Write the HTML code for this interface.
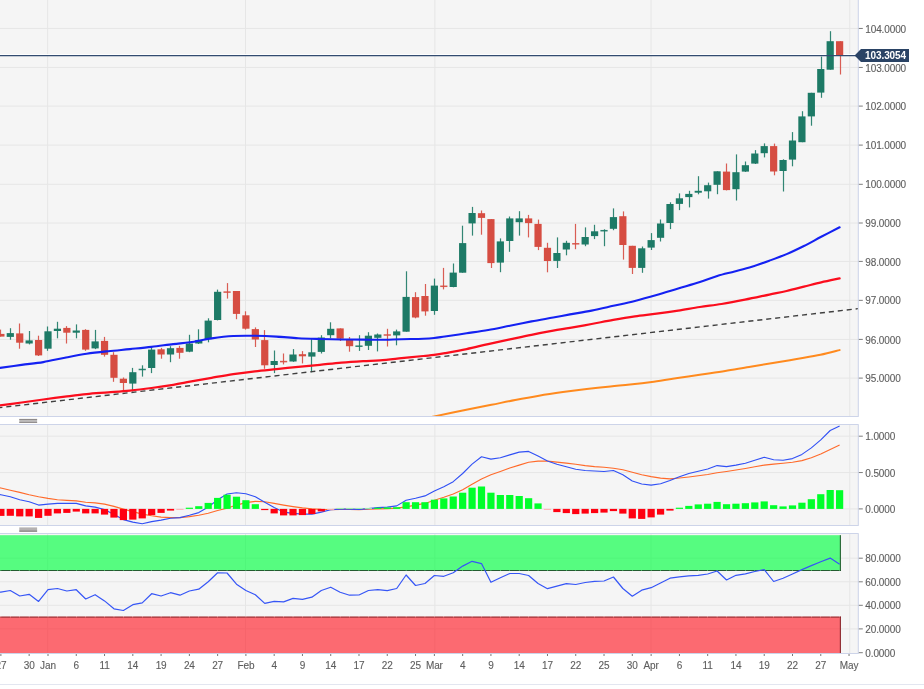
<!DOCTYPE html>
<html lang="en"><head><meta charset="utf-8"><title>DXY daily chart</title>
<style>html,body{margin:0;padding:0;background:#fff;}body{width:924px;height:689px;overflow:hidden;font-family:"Liberation Sans",sans-serif;}svg{display:block;}</style></head>
<body>
<svg width="924" height="689" viewBox="0 0 924 689" style="will-change:transform">
<rect width="924" height="689" fill="#ffffff"/>
<rect x="0" y="0" width="858.3" height="416.4" fill="#f5f5f5"/>
<rect x="0" y="424.4" width="858.3" height="101" fill="#f5f5f5"/>
<rect x="0" y="533.5" width="858.3" height="120" fill="#f5f5f5"/>
<g stroke="#e6e6e6" stroke-width="1">
<line x1="47.7" y1="0" x2="47.7" y2="416.4"/>
<line x1="47.7" y1="424.4" x2="47.7" y2="525.4"/>
<line x1="47.7" y1="533.5" x2="47.7" y2="653.5"/>
<line x1="245.5" y1="0" x2="245.5" y2="416.4"/>
<line x1="245.5" y1="424.4" x2="245.5" y2="525.4"/>
<line x1="245.5" y1="533.5" x2="245.5" y2="653.5"/>
<line x1="434.85" y1="0" x2="434.85" y2="416.4"/>
<line x1="434.85" y1="424.4" x2="434.85" y2="525.4"/>
<line x1="434.85" y1="533.5" x2="434.85" y2="653.5"/>
<line x1="651.07" y1="0" x2="651.07" y2="416.4"/>
<line x1="651.07" y1="424.4" x2="651.07" y2="525.4"/>
<line x1="651.07" y1="533.5" x2="651.07" y2="653.5"/>
<line x1="849.8" y1="0" x2="849.8" y2="416.4"/>
<line x1="849.8" y1="424.4" x2="849.8" y2="525.4"/>
<line x1="849.8" y1="533.5" x2="849.8" y2="653.5"/>
<line x1="0" y1="378.1" x2="858.3" y2="378.1"/>
<line x1="0" y1="339.4" x2="858.3" y2="339.4"/>
<line x1="0" y1="300.35" x2="858.3" y2="300.35"/>
<line x1="0" y1="261.4" x2="858.3" y2="261.4"/>
<line x1="0" y1="223" x2="858.3" y2="223"/>
<line x1="0" y1="184.3" x2="858.3" y2="184.3"/>
<line x1="0" y1="145.1" x2="858.3" y2="145.1"/>
<line x1="0" y1="106.1" x2="858.3" y2="106.1"/>
<line x1="0" y1="67.45" x2="858.3" y2="67.45"/>
<line x1="0" y1="28.45" x2="858.3" y2="28.45"/>
<line x1="0" y1="436.2" x2="858.3" y2="436.2"/>
<line x1="0" y1="472.55" x2="858.3" y2="472.55"/>
<line x1="0" y1="508.9" x2="858.3" y2="508.9"/>
<line x1="0" y1="558.2" x2="858.3" y2="558.2"/>
<line x1="0" y1="581.8" x2="858.3" y2="581.8"/>
<line x1="0" y1="605.3" x2="858.3" y2="605.3"/>
<line x1="0" y1="628.9" x2="858.3" y2="628.9"/>
</g>
<rect x="0" y="535.2" width="840.8" height="35.7" fill="#00ff40" fill-opacity="0.65"/>
<rect x="0" y="616.7" width="840.8" height="36.6" fill="#ff1e2a" fill-opacity="0.65"/>
<line x1="0" y1="570.5" x2="840.8" y2="570.5" stroke="#1c4a26" stroke-width="0.9" stroke-dasharray="8.924 0.5" stroke-dashoffset="8.29"/>
<line x1="0" y1="617.1" x2="840.8" y2="617.1" stroke="#7a1e22" stroke-width="0.9" stroke-dasharray="8.924 0.5" stroke-dashoffset="8.29"/>
<line x1="840.35" y1="535.2" x2="840.35" y2="571" stroke="#1c4a26" stroke-width="0.95"/>
<line x1="840.35" y1="616.6" x2="840.35" y2="653.3" stroke="#7a1e22" stroke-width="0.95"/>
<g stroke="#cdd4e9" stroke-width="1.05" fill="none" stroke-linejoin="round">
<path d="M858.3 0V416.4H0"/>
<path d="M0 424.4H858.3V525.4H0"/>
<path d="M0 533.5H858.3V653.5H0"/>
</g>
<line x1="0" y1="684.5" x2="924" y2="684.5" stroke="#e3e6f0" stroke-width="1" shape-rendering="crispEdges"/>
<rect x="19.3" y="418.8" width="17.8" height="4.2" fill="#c3c1c1"/>
<rect x="19.3" y="419.0" width="17.8" height="1.1" fill="#8e8a8a"/>
<rect x="19.3" y="421.8" width="17.8" height="1.1" fill="#8e8a8a"/>
<rect x="19.3" y="527.4" width="17.8" height="4.3" fill="#b4b1b1"/>
<rect x="19.3" y="530.6" width="17.8" height="1.1" fill="#857f7f"/>
<clipPath id="cm"><rect x="0" y="0" width="857.8" height="415.9"/></clipPath>
<g clip-path="url(#cm)">
<line x1="0" y1="54.45" x2="858.3" y2="54.45" stroke="#ffffff" stroke-width="1"/>
<rect x="-0.1" y="329.6" width="1.2" height="7" fill="#d64d42" fill-opacity="0.9"/>
<rect x="-2.72" y="333.9" width="7.2" height="2.7" fill="#d64d42"/>
<rect x="9.9" y="328.2" width="1.2" height="11.5" fill="#1d7a66" fill-opacity="0.9"/>
<rect x="6.7" y="333.1" width="7.2" height="3.8" fill="#1d7a66"/>
<rect x="18.9" y="323.5" width="1.2" height="25.2" fill="#d64d42" fill-opacity="0.9"/>
<rect x="16.13" y="333.4" width="7.2" height="9.3" fill="#d64d42"/>
<rect x="28.9" y="331" width="1.2" height="13.4" fill="#1d7a66" fill-opacity="0.9"/>
<rect x="25.55" y="340.4" width="7.2" height="3.1" fill="#1d7a66"/>
<rect x="37.9" y="335.7" width="1.2" height="20.3" fill="#d64d42" fill-opacity="0.9"/>
<rect x="34.98" y="340" width="7.2" height="15.4" fill="#d64d42"/>
<rect x="46.9" y="326.5" width="1.2" height="24.3" fill="#1d7a66" fill-opacity="0.9"/>
<rect x="44.4" y="331.3" width="7.2" height="17.4" fill="#1d7a66"/>
<rect x="56.9" y="321.8" width="1.2" height="16.5" fill="#1d7a66" fill-opacity="0.9"/>
<rect x="53.82" y="328.7" width="7.2" height="2.3" fill="#1d7a66"/>
<rect x="65.9" y="326.1" width="1.2" height="17.4" fill="#d64d42" fill-opacity="0.9"/>
<rect x="63.25" y="327.9" width="7.2" height="4.8" fill="#d64d42"/>
<rect x="75.9" y="324.4" width="1.2" height="13.9" fill="#1d7a66" fill-opacity="0.9"/>
<rect x="72.67" y="330.5" width="7.2" height="2.2" fill="#1d7a66"/>
<rect x="84.9" y="329.2" width="1.2" height="21.6" fill="#d64d42" fill-opacity="0.9"/>
<rect x="82.1" y="329.9" width="7.2" height="19.7" fill="#d64d42"/>
<rect x="94.9" y="329.9" width="1.2" height="19.2" fill="#1d7a66" fill-opacity="0.9"/>
<rect x="91.52" y="341.4" width="7.2" height="7" fill="#1d7a66"/>
<rect x="103.9" y="336.9" width="1.2" height="19.7" fill="#d64d42" fill-opacity="0.9"/>
<rect x="100.94" y="340.9" width="7.2" height="13.9" fill="#d64d42"/>
<rect x="112.9" y="352.2" width="1.2" height="29.6" fill="#d64d42" fill-opacity="0.9"/>
<rect x="110.37" y="354.8" width="7.2" height="23" fill="#d64d42"/>
<rect x="122.9" y="377.5" width="1.2" height="13" fill="#d64d42" fill-opacity="0.9"/>
<rect x="119.79" y="378.7" width="7.2" height="4.3" fill="#d64d42"/>
<rect x="131.9" y="367.9" width="1.2" height="23.5" fill="#1d7a66" fill-opacity="0.9"/>
<rect x="129.22" y="372.2" width="7.2" height="11.4" fill="#1d7a66"/>
<rect x="141.9" y="365.3" width="1.2" height="11.3" fill="#1d7a66" fill-opacity="0.9"/>
<rect x="138.64" y="368.75" width="7.2" height="1.5" fill="#1d7a66" fill-opacity="0.93"/>
<rect x="150.9" y="347.9" width="1.2" height="25.2" fill="#1d7a66" fill-opacity="0.9"/>
<rect x="148.06" y="349.6" width="7.2" height="18.4" fill="#1d7a66"/>
<rect x="160.9" y="347.9" width="1.2" height="10.8" fill="#d64d42" fill-opacity="0.9"/>
<rect x="157.49" y="349.3" width="7.2" height="5.2" fill="#d64d42"/>
<rect x="169.9" y="346.2" width="1.2" height="16" fill="#1d7a66" fill-opacity="0.9"/>
<rect x="166.91" y="348.2" width="7.2" height="6.3" fill="#1d7a66"/>
<rect x="178.9" y="345.8" width="1.2" height="12.9" fill="#d64d42" fill-opacity="0.9"/>
<rect x="176.34" y="347.9" width="7.2" height="4.9" fill="#d64d42"/>
<rect x="188.9" y="334.8" width="1.2" height="17.4" fill="#1d7a66" fill-opacity="0.9"/>
<rect x="185.76" y="343.5" width="7.2" height="8.2" fill="#1d7a66"/>
<rect x="197.9" y="329.3" width="1.2" height="14.7" fill="#1d7a66" fill-opacity="0.9"/>
<rect x="195.18" y="340.1" width="7.2" height="3.4" fill="#1d7a66"/>
<rect x="207.9" y="318.3" width="1.2" height="24" fill="#1d7a66" fill-opacity="0.9"/>
<rect x="204.61" y="320.6" width="7.2" height="18.6" fill="#1d7a66"/>
<rect x="216.9" y="289.6" width="1.2" height="30.8" fill="#1d7a66" fill-opacity="0.9"/>
<rect x="214.03" y="291.8" width="7.2" height="28.2" fill="#1d7a66"/>
<rect x="226.9" y="283.1" width="1.2" height="15.5" fill="#d64d42" fill-opacity="0.9"/>
<rect x="223.46" y="291.35" width="7.2" height="1.5" fill="#d64d42" fill-opacity="0.93"/>
<rect x="235.9" y="291" width="1.2" height="28.2" fill="#d64d42" fill-opacity="0.9"/>
<rect x="232.88" y="291" width="7.2" height="22.9" fill="#d64d42"/>
<rect x="244.9" y="311.3" width="1.2" height="18.3" fill="#d64d42" fill-opacity="0.9"/>
<rect x="242.3" y="315.3" width="7.2" height="13.4" fill="#d64d42"/>
<rect x="254.9" y="327.4" width="1.2" height="19.6" fill="#d64d42" fill-opacity="0.9"/>
<rect x="251.73" y="329.1" width="7.2" height="10.4" fill="#d64d42"/>
<rect x="263.9" y="330.1" width="1.2" height="38.7" fill="#d64d42" fill-opacity="0.9"/>
<rect x="261.15" y="340.1" width="7.2" height="25.2" fill="#d64d42"/>
<rect x="273.9" y="350.5" width="1.2" height="22.6" fill="#1d7a66" fill-opacity="0.9"/>
<rect x="270.58" y="361" width="7.2" height="4" fill="#1d7a66"/>
<rect x="282.9" y="353.5" width="1.2" height="10.9" fill="#d64d42" fill-opacity="0.9"/>
<rect x="280" y="360.85" width="7.2" height="1.5" fill="#d64d42" fill-opacity="0.93"/>
<rect x="292.9" y="349.1" width="1.2" height="12.7" fill="#1d7a66" fill-opacity="0.9"/>
<rect x="289.42" y="354.5" width="7.2" height="7" fill="#1d7a66"/>
<rect x="301.9" y="351.1" width="1.2" height="12.3" fill="#d64d42" fill-opacity="0.9"/>
<rect x="298.85" y="354.2" width="7.2" height="2.1" fill="#d64d42"/>
<rect x="310.9" y="339.2" width="1.2" height="33.1" fill="#1d7a66" fill-opacity="0.9"/>
<rect x="308.27" y="352.3" width="7.2" height="4.3" fill="#1d7a66"/>
<rect x="320.9" y="335.2" width="1.2" height="18.3" fill="#1d7a66" fill-opacity="0.9"/>
<rect x="317.7" y="337.5" width="7.2" height="14.4" fill="#1d7a66"/>
<rect x="329.9" y="322.3" width="1.2" height="16" fill="#1d7a66" fill-opacity="0.9"/>
<rect x="327.12" y="328.8" width="7.2" height="6.4" fill="#1d7a66"/>
<rect x="339.9" y="328.4" width="1.2" height="12.6" fill="#d64d42" fill-opacity="0.9"/>
<rect x="336.54" y="328.4" width="7.2" height="10.3" fill="#d64d42"/>
<rect x="348.9" y="337" width="1.2" height="14.7" fill="#d64d42" fill-opacity="0.9"/>
<rect x="345.97" y="339.7" width="7.2" height="6.5" fill="#d64d42"/>
<rect x="358.9" y="335.2" width="1.2" height="15.7" fill="#1d7a66" fill-opacity="0.9"/>
<rect x="355.39" y="345.45" width="7.2" height="1.5" fill="#1d7a66" fill-opacity="0.93"/>
<rect x="367.9" y="332.2" width="1.2" height="17.8" fill="#1d7a66" fill-opacity="0.9"/>
<rect x="364.82" y="335.7" width="7.2" height="10.1" fill="#1d7a66"/>
<rect x="376.9" y="333.5" width="1.2" height="17.9" fill="#1d7a66" fill-opacity="0.9"/>
<rect x="374.24" y="334.5" width="7.2" height="3.3" fill="#1d7a66"/>
<rect x="386.9" y="328.8" width="1.2" height="17.7" fill="#d64d42" fill-opacity="0.9"/>
<rect x="383.66" y="334.25" width="7.2" height="1.5" fill="#d64d42" fill-opacity="0.93"/>
<rect x="395.9" y="329.6" width="1.2" height="15.7" fill="#1d7a66" fill-opacity="0.9"/>
<rect x="393.09" y="331.4" width="7.2" height="4" fill="#1d7a66"/>
<rect x="405.9" y="271.3" width="1.2" height="60.4" fill="#1d7a66" fill-opacity="0.9"/>
<rect x="402.51" y="296.9" width="7.2" height="34.8" fill="#1d7a66"/>
<rect x="414.9" y="292.2" width="1.2" height="26.1" fill="#d64d42" fill-opacity="0.9"/>
<rect x="411.94" y="297.1" width="7.2" height="20.4" fill="#d64d42"/>
<rect x="424.9" y="284" width="1.2" height="31.7" fill="#d64d42" fill-opacity="0.9"/>
<rect x="421.36" y="296" width="7.2" height="15.4" fill="#d64d42"/>
<rect x="433.9" y="278.6" width="1.2" height="36.2" fill="#1d7a66" fill-opacity="0.9"/>
<rect x="430.78" y="285.6" width="7.2" height="25.4" fill="#1d7a66"/>
<rect x="442.9" y="267.9" width="1.2" height="21.5" fill="#d64d42" fill-opacity="0.9"/>
<rect x="440.21" y="285.55" width="7.2" height="1.5" fill="#d64d42" fill-opacity="0.93"/>
<rect x="452.9" y="263.5" width="1.2" height="23.8" fill="#1d7a66" fill-opacity="0.9"/>
<rect x="449.63" y="272.6" width="7.2" height="14.4" fill="#1d7a66"/>
<rect x="461.9" y="225.7" width="1.2" height="47" fill="#1d7a66" fill-opacity="0.9"/>
<rect x="459.06" y="243.1" width="7.2" height="29.6" fill="#1d7a66"/>
<rect x="471.9" y="206.9" width="1.2" height="28.7" fill="#1d7a66" fill-opacity="0.9"/>
<rect x="468.48" y="213" width="7.2" height="10.4" fill="#1d7a66"/>
<rect x="480.9" y="210.5" width="1.2" height="24.2" fill="#d64d42" fill-opacity="0.9"/>
<rect x="477.9" y="213.2" width="7.2" height="4.7" fill="#d64d42"/>
<rect x="490.9" y="219.1" width="1.2" height="48.9" fill="#d64d42" fill-opacity="0.9"/>
<rect x="487.33" y="219.1" width="7.2" height="44" fill="#d64d42"/>
<rect x="499.9" y="238.4" width="1.2" height="33.8" fill="#1d7a66" fill-opacity="0.9"/>
<rect x="496.75" y="241.4" width="7.2" height="21.2" fill="#1d7a66"/>
<rect x="508.9" y="216.5" width="1.2" height="35.3" fill="#1d7a66" fill-opacity="0.9"/>
<rect x="506.18" y="218.4" width="7.2" height="22.6" fill="#1d7a66"/>
<rect x="518.9" y="211.2" width="1.2" height="24.4" fill="#1d7a66" fill-opacity="0.9"/>
<rect x="515.6" y="218.4" width="7.2" height="3.8" fill="#1d7a66"/>
<rect x="527.9" y="214.9" width="1.2" height="22.5" fill="#d64d42" fill-opacity="0.9"/>
<rect x="525.02" y="218.4" width="7.2" height="4.7" fill="#d64d42"/>
<rect x="537.9" y="219.6" width="1.2" height="30.5" fill="#d64d42" fill-opacity="0.9"/>
<rect x="534.45" y="223.9" width="7.2" height="23" fill="#d64d42"/>
<rect x="546.9" y="242.8" width="1.2" height="29.5" fill="#d64d42" fill-opacity="0.9"/>
<rect x="543.87" y="247.8" width="7.2" height="13.2" fill="#d64d42"/>
<rect x="556.9" y="237.4" width="1.2" height="30.6" fill="#1d7a66" fill-opacity="0.9"/>
<rect x="553.3" y="253" width="7.2" height="7.9" fill="#1d7a66"/>
<rect x="565.9" y="240.8" width="1.2" height="14.5" fill="#1d7a66" fill-opacity="0.9"/>
<rect x="562.72" y="242.8" width="7.2" height="6.7" fill="#1d7a66"/>
<rect x="574.9" y="223.9" width="1.2" height="25.3" fill="#d64d42" fill-opacity="0.9"/>
<rect x="572.14" y="243.05" width="7.2" height="1.5" fill="#d64d42" fill-opacity="0.93"/>
<rect x="584.9" y="227.4" width="1.2" height="18.8" fill="#1d7a66" fill-opacity="0.9"/>
<rect x="581.57" y="237" width="7.2" height="7.5" fill="#1d7a66"/>
<rect x="593.9" y="224.8" width="1.2" height="14.3" fill="#1d7a66" fill-opacity="0.9"/>
<rect x="590.99" y="231.3" width="7.2" height="4.8" fill="#1d7a66"/>
<rect x="603.9" y="229.3" width="1.2" height="16.9" fill="#1d7a66" fill-opacity="0.9"/>
<rect x="600.42" y="229.95" width="7.2" height="1.5" fill="#1d7a66" fill-opacity="0.93"/>
<rect x="612.9" y="208.4" width="1.2" height="21.8" fill="#1d7a66" fill-opacity="0.9"/>
<rect x="609.84" y="217.1" width="7.2" height="11.7" fill="#1d7a66"/>
<rect x="622.9" y="211.4" width="1.2" height="48.2" fill="#d64d42" fill-opacity="0.9"/>
<rect x="619.26" y="216.2" width="7.2" height="28.8" fill="#d64d42"/>
<rect x="631.9" y="245.8" width="1.2" height="28.2" fill="#d64d42" fill-opacity="0.9"/>
<rect x="628.69" y="245.8" width="7.2" height="22.1" fill="#d64d42"/>
<rect x="641.9" y="246.5" width="1.2" height="26.3" fill="#1d7a66" fill-opacity="0.9"/>
<rect x="638.11" y="248.3" width="7.2" height="19.6" fill="#1d7a66"/>
<rect x="650.9" y="233.1" width="1.2" height="16.9" fill="#1d7a66" fill-opacity="0.9"/>
<rect x="647.54" y="240.1" width="7.2" height="7.5" fill="#1d7a66"/>
<rect x="659.9" y="219.5" width="1.2" height="22" fill="#1d7a66" fill-opacity="0.9"/>
<rect x="656.96" y="223.5" width="7.2" height="14.3" fill="#1d7a66"/>
<rect x="669.9" y="202.3" width="1.2" height="26.8" fill="#1d7a66" fill-opacity="0.9"/>
<rect x="666.38" y="204" width="7.2" height="19" fill="#1d7a66"/>
<rect x="678.9" y="193.4" width="1.2" height="16.7" fill="#1d7a66" fill-opacity="0.9"/>
<rect x="675.81" y="198.3" width="7.2" height="5.6" fill="#1d7a66"/>
<rect x="688.9" y="190.8" width="1.2" height="16.6" fill="#1d7a66" fill-opacity="0.9"/>
<rect x="685.23" y="193.9" width="7.2" height="3.2" fill="#1d7a66"/>
<rect x="697.9" y="176.2" width="1.2" height="18.1" fill="#1d7a66" fill-opacity="0.9"/>
<rect x="694.66" y="190.8" width="7.2" height="1.9" fill="#1d7a66"/>
<rect x="707.9" y="182.6" width="1.2" height="16" fill="#1d7a66" fill-opacity="0.9"/>
<rect x="704.08" y="185.2" width="7.2" height="6.1" fill="#1d7a66"/>
<rect x="716.9" y="171.3" width="1.2" height="22.9" fill="#1d7a66" fill-opacity="0.9"/>
<rect x="713.5" y="171.3" width="7.2" height="13.5" fill="#1d7a66"/>
<rect x="725.9" y="163.5" width="1.2" height="26.9" fill="#d64d42" fill-opacity="0.9"/>
<rect x="722.93" y="171.6" width="7.2" height="18.5" fill="#d64d42"/>
<rect x="735.9" y="154.4" width="1.2" height="46.1" fill="#1d7a66" fill-opacity="0.9"/>
<rect x="732.35" y="172.2" width="7.2" height="17" fill="#1d7a66"/>
<rect x="744.9" y="161.5" width="1.2" height="10.4" fill="#1d7a66" fill-opacity="0.9"/>
<rect x="741.78" y="165.2" width="7.2" height="6.4" fill="#1d7a66"/>
<rect x="754.9" y="150.1" width="1.2" height="13.9" fill="#1d7a66" fill-opacity="0.9"/>
<rect x="751.2" y="153.5" width="7.2" height="10.1" fill="#1d7a66"/>
<rect x="763.9" y="143.4" width="1.2" height="14" fill="#1d7a66" fill-opacity="0.9"/>
<rect x="760.62" y="146.1" width="7.2" height="7.1" fill="#1d7a66"/>
<rect x="773.9" y="143.6" width="1.2" height="31.7" fill="#d64d42" fill-opacity="0.9"/>
<rect x="770.05" y="146.1" width="7.2" height="25.4" fill="#d64d42"/>
<rect x="782.9" y="159.3" width="1.2" height="32.2" fill="#1d7a66" fill-opacity="0.9"/>
<rect x="779.47" y="160" width="7.2" height="11" fill="#1d7a66"/>
<rect x="791.9" y="132.1" width="1.2" height="34.2" fill="#1d7a66" fill-opacity="0.9"/>
<rect x="788.9" y="140.5" width="7.2" height="19.1" fill="#1d7a66"/>
<rect x="801.9" y="111.2" width="1.2" height="31" fill="#1d7a66" fill-opacity="0.9"/>
<rect x="798.32" y="116.4" width="7.2" height="25.8" fill="#1d7a66"/>
<rect x="810.9" y="92.8" width="1.2" height="32.9" fill="#1d7a66" fill-opacity="0.9"/>
<rect x="807.74" y="92.8" width="7.2" height="23.6" fill="#1d7a66"/>
<rect x="820.9" y="56.6" width="1.2" height="41.2" fill="#1d7a66" fill-opacity="0.9"/>
<rect x="817.17" y="69" width="7.2" height="23.6" fill="#1d7a66"/>
<rect x="829.9" y="31.2" width="1.2" height="38.5" fill="#1d7a66" fill-opacity="0.9"/>
<rect x="826.59" y="41.2" width="7.2" height="28.5" fill="#1d7a66"/>
<rect x="839.9" y="41.2" width="1.2" height="33.3" fill="#d64d42" fill-opacity="0.9"/>
<rect x="836.02" y="41.2" width="7.2" height="14.1" fill="#d64d42"/>
<line x1="860.7" y1="308.35" x2="-6" y2="408.3" stroke="#404040" stroke-width="1.4" stroke-dasharray="5.1 3.9"/>
<path d="M428 417.9C429.05 417.65 427.7 417.8 434.3 416.4C440.9 415 458.08 411.43 467.6 409.5C477.12 407.57 483.47 406.38 491.4 404.8C499.33 403.22 507.27 401.52 515.2 400C523.13 398.48 531.05 397.02 539 395.7C546.95 394.38 554.95 393.22 562.9 392.1C570.85 390.98 578.77 389.95 586.7 389C594.63 388.05 603.28 387.13 610.5 386.4C617.72 385.67 622.78 385.38 630 384.6C637.22 383.82 645.87 382.78 653.8 381.7C661.73 380.62 669.67 379.3 677.6 378.1C685.53 376.9 693.47 375.68 701.4 374.5C709.33 373.32 717.27 372.27 725.2 371C733.13 369.73 741.05 368.22 749 366.9C756.95 365.58 764.95 364.42 772.9 363.1C780.85 361.78 788.77 360.38 796.7 359C804.63 357.62 813.35 356.28 820.5 354.8C827.65 353.32 836.42 350.88 839.6 350.1" fill="none" stroke="#ff8a1e" stroke-width="2" stroke-linejoin="round" stroke-linecap="round"/>
<path d="M-3 405.7C-2.5 405.63 -4.1 405.83 0 405.3C4.1 404.77 14.38 403.47 21.6 402.5C28.82 401.53 36.08 400.47 43.3 399.5C50.52 398.53 57.68 397.6 64.9 396.7C72.12 395.8 79.38 394.82 86.6 394.1C93.82 393.38 100.98 392.98 108.2 392.4C115.42 391.82 122.68 391.33 129.9 390.6C137.12 389.87 144.28 388.97 151.5 388C158.72 387.03 166.78 385.85 173.2 384.8C179.62 383.75 183.6 382.87 190 381.7C196.4 380.53 204.38 379.07 211.6 377.8C218.82 376.53 226.08 375.18 233.3 374.1C240.52 373.02 247.68 372.13 254.9 371.3C262.12 370.47 269.38 369.83 276.6 369.1C283.82 368.37 290.98 367.62 298.2 366.9C305.42 366.18 312.68 365.52 319.9 364.8C327.12 364.08 334.28 363.22 341.5 362.6C348.72 361.98 356.78 361.48 363.2 361.1C369.62 360.72 373.6 360.78 380 360.3C386.4 359.82 394.38 358.92 401.6 358.2C408.82 357.48 417.88 356.55 423.3 356C428.72 355.45 430.5 355.37 434.1 354.9C437.7 354.43 439.48 354.17 444.9 353.2C450.32 352.23 459.38 350.62 466.6 349.1C473.82 347.58 480.98 345.72 488.2 344.1C495.42 342.48 502.68 340.95 509.9 339.4C517.12 337.85 524.28 336.25 531.5 334.8C538.72 333.35 546.78 331.85 553.2 330.7C559.62 329.55 563.6 329.02 570 327.9C576.4 326.78 584.38 325.33 591.6 324C598.82 322.67 606.08 321.17 613.3 319.9C620.52 318.63 627.68 317.43 634.9 316.4C642.12 315.37 649.38 314.67 656.6 313.7C663.82 312.73 670.98 311.72 678.2 310.6C685.42 309.48 692.68 308.1 699.9 307C707.12 305.9 713.98 305.22 721.5 304C729.02 302.78 737.03 301.27 745 299.7C752.97 298.13 762.37 296.05 769.3 294.6C776.23 293.15 780.83 292.32 786.6 291C792.37 289.68 798.13 288.15 803.9 286.7C809.67 285.25 815.25 283.7 821.2 282.3C827.15 280.9 836.53 278.97 839.6 278.3" fill="none" stroke="#fb0d1d" stroke-width="2.25" stroke-linejoin="round" stroke-linecap="round"/>
<path d="M-3 368.3C-2.5 368.23 -4.1 368.47 0 367.9C4.1 367.33 14.38 365.87 21.6 364.9C28.82 363.93 36.08 363.3 43.3 362.1C50.52 360.9 57.68 359.08 64.9 357.7C72.12 356.32 79.38 354.88 86.6 353.8C93.82 352.72 100.98 351.98 108.2 351.2C115.42 350.42 122.68 349.82 129.9 349.1C137.12 348.38 144.28 347.73 151.5 346.9C158.72 346.07 166.78 344.87 173.2 344.1C179.62 343.33 183.6 343.25 190 342.3C196.4 341.35 204.38 339.45 211.6 338.4C218.82 337.35 226.08 336.43 233.3 336C240.52 335.57 247.68 335.7 254.9 335.8C262.12 335.9 269.38 336.2 276.6 336.6C283.82 337 290.98 337.8 298.2 338.2C305.42 338.6 312.68 338.78 319.9 339C327.12 339.22 334.28 339.4 341.5 339.5C348.72 339.6 356.78 339.55 363.2 339.6C369.62 339.65 373.6 339.87 380 339.8C386.4 339.73 394.38 339.38 401.6 339.2C408.82 339.02 417.88 338.9 423.3 338.7C428.72 338.5 430.5 338.37 434.1 338C437.7 337.63 439.48 337.28 444.9 336.5C450.32 335.72 459.38 334.38 466.6 333.3C473.82 332.22 480.98 331.27 488.2 330C495.42 328.73 502.68 327.13 509.9 325.7C517.12 324.27 524.28 322.77 531.5 321.4C538.72 320.03 546.78 318.67 553.2 317.5C559.62 316.33 563.6 315.55 570 314.4C576.4 313.25 584.38 312.03 591.6 310.6C598.82 309.17 606.08 307.42 613.3 305.8C620.52 304.18 627.68 302.7 634.9 300.9C642.12 299.1 649.38 297.07 656.6 295C663.82 292.93 670.98 290.67 678.2 288.5C685.42 286.33 693.38 284.1 699.9 282C706.42 279.9 711.52 277.67 717.3 275.9C723.08 274.13 728.83 272.93 734.6 271.4C740.37 269.87 746.12 268.48 751.9 266.7C757.68 264.92 763.52 262.8 769.3 260.7C775.08 258.6 780.83 256.55 786.6 254.1C792.37 251.65 798.13 248.88 803.9 246C809.67 243.12 815.25 239.92 821.2 236.8C827.15 233.68 836.53 228.88 839.6 227.3" fill="none" stroke="#1421f2" stroke-width="2.1" stroke-linejoin="round" stroke-linecap="round"/>
</g>
<line x1="0" y1="55.55" x2="858.3" y2="55.55" stroke="#324b70" stroke-width="1.2"/>
<clipPath id="c2"><rect x="0" y="424.9" width="857.8" height="100"/></clipPath>
<g clip-path="url(#c2)">
<polyline points="-8.54,487 0.88,488 10.3,490.2 19.73,492.4 29.15,494.7 38.58,496.7 48,498.4 57.42,499.7 66.85,500.4 76.27,500.9 85.7,502.2 95.12,502.9 104.54,504.1 113.97,506.4 123.39,509.1 132.82,511.6 142.24,514.1 151.66,515.8 161.09,517.1 170.51,517.6 179.94,517.6 189.36,516.6 198.78,515.3 208.21,513.3 217.63,510.5 227.06,508.2 236.48,505.1 245.9,502.6 255.33,501.4 264.75,501.7 274.18,503.4 283.6,505.1 293.02,506.6 302.45,507.9 311.87,508.9 321.3,509.4 330.72,509.6 340.14,509.4 349.57,509.4 358.99,509.6 368.42,509.1 377.84,508.9 387.26,508.6 396.69,508.1 406.11,506.9 415.54,505.1 424.96,503.4 434.38,500.2 443.81,497.2 453.23,493.9 462.66,489.7 472.08,484.2 481.5,479 490.93,474.8 500.35,471.5 509.78,468 519.2,465.1 528.62,462.3 538.05,461.1 547.47,461.1 556.9,462.1 566.32,463.1 575.74,464.3 585.17,465.6 594.59,466.6 604.02,467.3 613.44,468.3 622.86,469.8 632.29,472.3 641.71,474.8 651.14,476.6 660.56,478.1 669.98,478.9 679.41,478 688.83,477 698.26,475.8 707.68,474.5 717.1,472.8 726.53,471.5 735.95,470 745.38,468.5 754.8,466.8 764.22,465.1 773.65,464.1 783.07,463.3 792.5,462.3 801.92,460.6 811.34,457.8 820.77,454.1 830.19,449.4 839.62,445.1" fill="none" stroke="#ff6a2a" stroke-width="1.1" stroke-linejoin="round"/>
<polyline points="-8.54,494.2 0.88,494.7 10.3,496.7 19.73,499.7 29.15,501.7 38.58,505.1 48,504.1 57.42,503.4 66.85,503.4 76.27,503.4 85.7,505.9 95.12,507.1 104.54,509.6 113.97,514.6 123.39,519.6 132.82,522.1 142.24,523.8 151.66,521.6 161.09,520.1 170.51,518.3 179.94,517.6 189.36,515.3 198.78,512.6 208.21,507.1 217.63,499.7 227.06,494 236.48,492.7 245.9,493.7 255.33,496.7 264.75,502.2 274.18,507.6 283.6,512.1 293.02,513.4 302.45,514.1 311.87,514.1 321.3,512.1 330.72,509.8 340.14,509.1 349.57,509.1 358.99,509.4 368.42,508.6 377.84,507.6 387.26,507.1 396.69,505.9 406.11,500.2 415.54,498.2 424.96,495.9 434.38,490.9 443.81,486.7 453.23,481.7 462.66,473.5 472.08,464.1 481.5,456.8 490.93,459.1 500.35,457.8 509.78,454.9 519.2,452.1 528.62,451.4 538.05,456.1 547.47,461.1 556.9,464.3 566.32,466.8 575.74,469.3 585.17,470.5 594.59,471 604.02,471.5 613.44,470.5 622.86,474.8 632.29,481 641.71,484 651.14,485.1 660.56,483.8 669.98,480.5 679.41,476.8 688.83,473.5 698.26,471.3 707.68,469 717.1,465.6 726.53,466.6 735.95,465.1 745.38,463.3 754.8,460.3 764.22,457.3 773.65,459.8 783.07,460.3 792.5,458.6 801.92,454.4 811.34,447.9 820.77,439.9 830.19,430.5 839.62,426" fill="none" stroke="#3050f5" stroke-width="1.1" stroke-linejoin="round"/>
<rect x="-2.72" y="508.9" width="7.2" height="7" fill="#ff0010"/>
<rect x="6.7" y="508.9" width="7.2" height="6.9" fill="#ff0010"/>
<rect x="16.13" y="508.9" width="7.2" height="7.5" fill="#ff0010"/>
<rect x="25.55" y="508.9" width="7.2" height="7.5" fill="#ff0010"/>
<rect x="34.98" y="508.9" width="7.2" height="9" fill="#ff0010"/>
<rect x="44.4" y="508.9" width="7.2" height="6.9" fill="#ff0010"/>
<rect x="53.82" y="508.9" width="7.2" height="4.5" fill="#ff0010"/>
<rect x="63.25" y="508.9" width="7.2" height="4" fill="#ff0010"/>
<rect x="72.67" y="508.9" width="7.2" height="2.7" fill="#ff0010"/>
<rect x="82.1" y="508.9" width="7.2" height="4.5" fill="#ff0010"/>
<rect x="91.52" y="508.9" width="7.2" height="4.5" fill="#ff0010"/>
<rect x="100.94" y="508.9" width="7.2" height="5.7" fill="#ff0010"/>
<rect x="110.37" y="508.9" width="7.2" height="8.7" fill="#ff0010"/>
<rect x="119.79" y="508.9" width="7.2" height="11.2" fill="#ff0010"/>
<rect x="129.22" y="508.9" width="7.2" height="10.7" fill="#ff0010"/>
<rect x="138.64" y="508.9" width="7.2" height="9.5" fill="#ff0010"/>
<rect x="148.06" y="508.9" width="7.2" height="6.2" fill="#ff0010"/>
<rect x="157.49" y="508.9" width="7.2" height="4" fill="#ff0010"/>
<rect x="166.91" y="508.9" width="7.2" height="1.7" fill="#ff0010"/>
<rect x="176.34" y="508.9" width="7.2" height="1" fill="#ffb0b4"/>
<rect x="185.76" y="507.7" width="7.2" height="1.2" fill="#00ff2a"/>
<rect x="195.18" y="506.2" width="7.2" height="2.7" fill="#00ff2a"/>
<rect x="204.61" y="502.9" width="7.2" height="6" fill="#00ff2a"/>
<rect x="214.03" y="497.9" width="7.2" height="11" fill="#00ff2a"/>
<rect x="223.46" y="494.7" width="7.2" height="14.2" fill="#00ff2a"/>
<rect x="232.88" y="496.7" width="7.2" height="12.2" fill="#00ff2a"/>
<rect x="242.3" y="500.2" width="7.2" height="8.7" fill="#00ff2a"/>
<rect x="251.73" y="504.2" width="7.2" height="4.7" fill="#00ff2a"/>
<rect x="261.15" y="508.9" width="7.2" height="1.2" fill="#ff0010"/>
<rect x="270.58" y="508.9" width="7.2" height="4.5" fill="#ff0010"/>
<rect x="280" y="508.9" width="7.2" height="6.5" fill="#ff0010"/>
<rect x="289.42" y="508.9" width="7.2" height="6.5" fill="#ff0010"/>
<rect x="298.85" y="508.9" width="7.2" height="6.2" fill="#ff0010"/>
<rect x="308.27" y="508.9" width="7.2" height="5.2" fill="#ff0010"/>
<rect x="317.7" y="508.9" width="7.2" height="2.5" fill="#ff0010"/>
<rect x="327.12" y="508.9" width="7.2" height="1" fill="#ffb0b4"/>
<rect x="336.54" y="507.9" width="7.2" height="1" fill="#9df5a8"/>
<rect x="345.97" y="507.9" width="7.2" height="1" fill="#9df5a8"/>
<rect x="355.39" y="507.9" width="7.2" height="1" fill="#9df5a8"/>
<rect x="364.82" y="507.9" width="7.2" height="1" fill="#9df5a8"/>
<rect x="374.24" y="507.7" width="7.2" height="1.2" fill="#00ff2a"/>
<rect x="383.66" y="507.4" width="7.2" height="1.5" fill="#00ff2a"/>
<rect x="393.09" y="507.2" width="7.2" height="1.7" fill="#00ff2a"/>
<rect x="402.51" y="502.2" width="7.2" height="6.7" fill="#00ff2a"/>
<rect x="411.94" y="502.2" width="7.2" height="6.7" fill="#00ff2a"/>
<rect x="421.36" y="502.2" width="7.2" height="6.7" fill="#00ff2a"/>
<rect x="430.78" y="499.7" width="7.2" height="9.2" fill="#00ff2a"/>
<rect x="440.21" y="498.4" width="7.2" height="10.5" fill="#00ff2a"/>
<rect x="449.63" y="496.5" width="7.2" height="12.4" fill="#00ff2a"/>
<rect x="459.06" y="492.7" width="7.2" height="16.2" fill="#00ff2a"/>
<rect x="468.48" y="487.7" width="7.2" height="21.2" fill="#00ff2a"/>
<rect x="477.9" y="486.5" width="7.2" height="22.4" fill="#00ff2a"/>
<rect x="487.33" y="492.7" width="7.2" height="16.2" fill="#00ff2a"/>
<rect x="496.75" y="495" width="7.2" height="13.9" fill="#00ff2a"/>
<rect x="506.18" y="495" width="7.2" height="13.9" fill="#00ff2a"/>
<rect x="515.6" y="496" width="7.2" height="12.9" fill="#00ff2a"/>
<rect x="525.02" y="498.2" width="7.2" height="10.7" fill="#00ff2a"/>
<rect x="534.45" y="503.4" width="7.2" height="5.5" fill="#00ff2a"/>
<rect x="543.87" y="508.9" width="7.2" height="1" fill="#ffb0b4"/>
<rect x="553.3" y="508.9" width="7.2" height="3.2" fill="#ff0010"/>
<rect x="562.72" y="508.9" width="7.2" height="4.2" fill="#ff0010"/>
<rect x="572.14" y="508.9" width="7.2" height="5.2" fill="#ff0010"/>
<rect x="581.57" y="508.9" width="7.2" height="4.7" fill="#ff0010"/>
<rect x="590.99" y="508.9" width="7.2" height="4.2" fill="#ff0010"/>
<rect x="600.42" y="508.9" width="7.2" height="3.7" fill="#ff0010"/>
<rect x="609.84" y="508.9" width="7.2" height="2.2" fill="#ff0010"/>
<rect x="619.26" y="508.9" width="7.2" height="4.7" fill="#ff0010"/>
<rect x="628.69" y="508.9" width="7.2" height="9.5" fill="#ff0010"/>
<rect x="638.11" y="508.9" width="7.2" height="10" fill="#ff0010"/>
<rect x="647.54" y="508.9" width="7.2" height="8.5" fill="#ff0010"/>
<rect x="656.96" y="508.9" width="7.2" height="5.7" fill="#ff0010"/>
<rect x="666.38" y="508.9" width="7.2" height="1.7" fill="#ff0010"/>
<rect x="675.81" y="507.7" width="7.2" height="1.2" fill="#00ff2a"/>
<rect x="685.23" y="505.9" width="7.2" height="3" fill="#00ff2a"/>
<rect x="694.66" y="504.4" width="7.2" height="4.5" fill="#00ff2a"/>
<rect x="704.08" y="503.7" width="7.2" height="5.2" fill="#00ff2a"/>
<rect x="713.5" y="501.9" width="7.2" height="7" fill="#00ff2a"/>
<rect x="722.93" y="504.2" width="7.2" height="4.7" fill="#00ff2a"/>
<rect x="732.35" y="503.7" width="7.2" height="5.2" fill="#00ff2a"/>
<rect x="741.78" y="503.2" width="7.2" height="5.7" fill="#00ff2a"/>
<rect x="751.2" y="502.4" width="7.2" height="6.5" fill="#00ff2a"/>
<rect x="760.62" y="501.4" width="7.2" height="7.5" fill="#00ff2a"/>
<rect x="770.05" y="505.2" width="7.2" height="3.7" fill="#00ff2a"/>
<rect x="779.47" y="506.4" width="7.2" height="2.5" fill="#00ff2a"/>
<rect x="788.9" y="505.4" width="7.2" height="3.5" fill="#00ff2a"/>
<rect x="798.32" y="502.7" width="7.2" height="6.2" fill="#00ff2a"/>
<rect x="807.74" y="499.2" width="7.2" height="9.7" fill="#00ff2a"/>
<rect x="817.17" y="494.2" width="7.2" height="14.7" fill="#00ff2a"/>
<rect x="826.59" y="490" width="7.2" height="18.9" fill="#00ff2a"/>
<rect x="836.02" y="490.2" width="7.2" height="18.7" fill="#00ff2a"/>
</g>
<clipPath id="c3"><rect x="0" y="534" width="857.8" height="119"/></clipPath>
<g clip-path="url(#c3)">
<polyline points="-8.54,591 0.88,592.2 10.3,590.5 19.73,596 29.15,594.3 38.58,601.4 48,589.7 57.42,588.5 66.85,591 76.27,589.7 85.7,599 95.12,594.7 104.54,600.9 113.97,608.8 123.39,610.5 132.82,604.7 142.24,602.9 151.66,593.7 161.09,596 170.51,592.7 179.94,595.2 189.36,591 198.78,589.2 208.21,581.8 217.63,572.8 227.06,573 236.48,584.2 245.9,590.5 255.33,594.7 264.75,603.4 274.18,601.4 283.6,601.9 293.02,598.4 302.45,599.4 311.87,597.2 321.3,590.5 330.72,587.2 340.14,592.2 349.57,595.2 358.99,595 368.42,590.5 377.84,589.7 387.26,590.7 396.69,588.5 406.11,575 415.54,585.5 424.96,583.5 434.38,575.5 443.81,576.3 453.23,572.8 462.66,566.1 472.08,561.3 481.5,563.6 490.93,582.3 500.35,577.8 509.78,573.5 519.2,573.5 528.62,575.5 538.05,583.5 547.47,588.7 556.9,586.2 566.32,583.7 575.74,584.5 585.17,582.5 594.59,581.3 604.02,581 613.44,577 622.86,588.5 632.29,596.2 641.71,590.2 651.14,587.7 660.56,583 669.98,578.2 679.41,576.8 688.83,575.8 698.26,575.3 707.68,574 717.1,571 726.53,580 735.95,575.3 745.38,573.8 754.8,571.5 764.22,569.6 773.65,581.5 783.07,578.3 792.5,574 801.92,569.6 811.34,565.6 820.77,561.8 830.19,558.1 839.62,564.3" fill="none" stroke="#3656f6" stroke-width="1.2" stroke-linejoin="round"/>
</g>
<g stroke="#7c7c7c" stroke-width="1">
<line x1="858.8" y1="378.1" x2="862.8" y2="378.1"/>
<line x1="858.8" y1="339.4" x2="862.8" y2="339.4"/>
<line x1="858.8" y1="300.35" x2="862.8" y2="300.35"/>
<line x1="858.8" y1="261.4" x2="862.8" y2="261.4"/>
<line x1="858.8" y1="223" x2="862.8" y2="223"/>
<line x1="858.8" y1="184.3" x2="862.8" y2="184.3"/>
<line x1="858.8" y1="145.1" x2="862.8" y2="145.1"/>
<line x1="858.8" y1="106.1" x2="862.8" y2="106.1"/>
<line x1="858.8" y1="67.45" x2="862.8" y2="67.45"/>
<line x1="858.8" y1="28.45" x2="862.8" y2="28.45"/>
<line x1="858.8" y1="436.2" x2="862.8" y2="436.2"/>
<line x1="858.8" y1="472.55" x2="862.8" y2="472.55"/>
<line x1="858.8" y1="508.9" x2="862.8" y2="508.9"/>
<line x1="858.8" y1="558.2" x2="862.8" y2="558.2"/>
<line x1="858.8" y1="581.8" x2="862.8" y2="581.8"/>
<line x1="858.8" y1="605.3" x2="862.8" y2="605.3"/>
<line x1="858.8" y1="628.9" x2="862.8" y2="628.9"/>
<line x1="858.8" y1="652.7" x2="862.8" y2="652.7"/>
<line x1="0.88" y1="654" x2="0.88" y2="656" stroke="#777"/>
<line x1="29.15" y1="654" x2="29.15" y2="656" stroke="#777"/>
<line x1="48" y1="654" x2="48" y2="656" stroke="#777"/>
<line x1="76.27" y1="654" x2="76.27" y2="656" stroke="#777"/>
<line x1="104.54" y1="654" x2="104.54" y2="656" stroke="#777"/>
<line x1="132.82" y1="654" x2="132.82" y2="656" stroke="#777"/>
<line x1="161.09" y1="654" x2="161.09" y2="656" stroke="#777"/>
<line x1="189.36" y1="654" x2="189.36" y2="656" stroke="#777"/>
<line x1="217.63" y1="654" x2="217.63" y2="656" stroke="#777"/>
<line x1="245.9" y1="654" x2="245.9" y2="656" stroke="#777"/>
<line x1="274.18" y1="654" x2="274.18" y2="656" stroke="#777"/>
<line x1="302.45" y1="654" x2="302.45" y2="656" stroke="#777"/>
<line x1="330.72" y1="654" x2="330.72" y2="656" stroke="#777"/>
<line x1="358.99" y1="654" x2="358.99" y2="656" stroke="#777"/>
<line x1="387.26" y1="654" x2="387.26" y2="656" stroke="#777"/>
<line x1="415.54" y1="654" x2="415.54" y2="656" stroke="#777"/>
<line x1="434.38" y1="654" x2="434.38" y2="656" stroke="#777"/>
<line x1="462.66" y1="654" x2="462.66" y2="656" stroke="#777"/>
<line x1="490.93" y1="654" x2="490.93" y2="656" stroke="#777"/>
<line x1="519.2" y1="654" x2="519.2" y2="656" stroke="#777"/>
<line x1="547.47" y1="654" x2="547.47" y2="656" stroke="#777"/>
<line x1="575.74" y1="654" x2="575.74" y2="656" stroke="#777"/>
<line x1="604.02" y1="654" x2="604.02" y2="656" stroke="#777"/>
<line x1="632.29" y1="654" x2="632.29" y2="656" stroke="#777"/>
<line x1="651.14" y1="654" x2="651.14" y2="656" stroke="#777"/>
<line x1="679.41" y1="654" x2="679.41" y2="656" stroke="#777"/>
<line x1="707.68" y1="654" x2="707.68" y2="656" stroke="#777"/>
<line x1="735.95" y1="654" x2="735.95" y2="656" stroke="#777"/>
<line x1="764.22" y1="654" x2="764.22" y2="656" stroke="#777"/>
<line x1="792.5" y1="654" x2="792.5" y2="656" stroke="#777"/>
<line x1="820.77" y1="654" x2="820.77" y2="656" stroke="#777"/>
<line x1="849.04" y1="654" x2="849.04" y2="656" stroke="#777"/>
</g>
<g font-family="'Liberation Sans', sans-serif" font-size="10" fill="#5e5e5e" stroke="#5e5e5e" stroke-width="0.12" letter-spacing="-0.12">
<text x="865.3" y="382.2">95.0000</text>
<text x="865.3" y="343.5">96.0000</text>
<text x="865.3" y="304.45">97.0000</text>
<text x="865.3" y="265.5">98.0000</text>
<text x="865.3" y="227.1">99.0000</text>
<text x="865.3" y="188.4">100.0000</text>
<text x="865.3" y="149.2">101.0000</text>
<text x="865.3" y="110.2">102.0000</text>
<text x="865.3" y="71.55">103.0000</text>
<text x="865.3" y="32.55">104.0000</text>
<text x="865.3" y="440.3">1.0000</text>
<text x="865.3" y="476.65">0.5000</text>
<text x="865.3" y="513">0.0000</text>
<text x="865.3" y="562.3">80.0000</text>
<text x="865.3" y="585.9">60.0000</text>
<text x="865.3" y="609.4">40.0000</text>
<text x="865.3" y="633">20.0000</text>
<text x="865.3" y="656.8">0.0000</text>
<text x="0.88" y="669" text-anchor="middle">27</text>
<text x="29.15" y="669" text-anchor="middle">30</text>
<text x="48" y="669" text-anchor="middle">Jan</text>
<text x="76.27" y="669" text-anchor="middle">6</text>
<text x="104.54" y="669" text-anchor="middle">11</text>
<text x="132.82" y="669" text-anchor="middle">14</text>
<text x="161.09" y="669" text-anchor="middle">19</text>
<text x="189.36" y="669" text-anchor="middle">24</text>
<text x="217.63" y="669" text-anchor="middle">27</text>
<text x="245.9" y="669" text-anchor="middle">Feb</text>
<text x="274.18" y="669" text-anchor="middle">4</text>
<text x="302.45" y="669" text-anchor="middle">9</text>
<text x="330.72" y="669" text-anchor="middle">14</text>
<text x="358.99" y="669" text-anchor="middle">17</text>
<text x="387.26" y="669" text-anchor="middle">22</text>
<text x="415.54" y="669" text-anchor="middle">25</text>
<text x="434.38" y="669" text-anchor="middle">Mar</text>
<text x="462.66" y="669" text-anchor="middle">4</text>
<text x="490.93" y="669" text-anchor="middle">9</text>
<text x="519.2" y="669" text-anchor="middle">14</text>
<text x="547.47" y="669" text-anchor="middle">17</text>
<text x="575.74" y="669" text-anchor="middle">22</text>
<text x="604.02" y="669" text-anchor="middle">25</text>
<text x="632.29" y="669" text-anchor="middle">30</text>
<text x="651.14" y="669" text-anchor="middle">Apr</text>
<text x="679.41" y="669" text-anchor="middle">6</text>
<text x="707.68" y="669" text-anchor="middle">11</text>
<text x="735.95" y="669" text-anchor="middle">14</text>
<text x="764.22" y="669" text-anchor="middle">19</text>
<text x="792.5" y="669" text-anchor="middle">22</text>
<text x="820.77" y="669" text-anchor="middle">27</text>
<text x="849.04" y="669" text-anchor="middle">May</text>
</g>
<path d="M854.6 55.5L861 49H909V62H861Z" fill="#2a4365"/>
<text x="865.1" y="59.1" font-family="'Liberation Sans', sans-serif" font-size="10" font-weight="bold" fill="#ffffff" letter-spacing="-0.1">103.3054</text>
</svg>
</body></html>
